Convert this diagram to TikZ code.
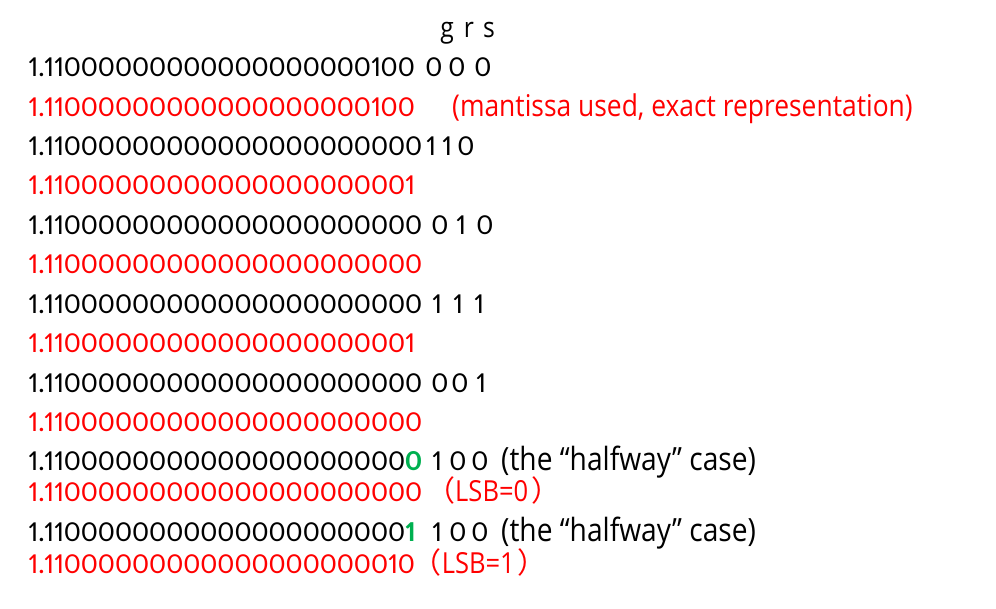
\documentclass[tikz,border=0pt]{standalone}
\usepackage{fontspec}
\setmainfont{Carlito}[Numbers=Proportional]
\newfontfamily\comic{Open Sans}[FakeStretch=0.88]
\newfontfamily\cjkf{Noto Sans CJK SC}
\definecolor{myred}{RGB}{255,0,0}
\definecolor{mygreen}{RGB}{0,176,80}
\def\zten{0000000000}
\begin{document}
\begin{tikzpicture}[x=1pt,y=-1pt,
  row/.style={anchor=base west,inner sep=0pt,font=\fontsize{29}{35}\selectfont},
  redrow/.style={row,text=myred},
  blackrow/.style={row,text=black},
  bit/.style={row,anchor=base},
  note/.style={row,font=\fontsize{30}{35}\selectfont\comic},
  halfnote/.style={row,font=\fontsize{32}{36}\selectfont\comic},
  grslabel/.style={bit,font=\fontsize{28}{33}\selectfont\comic}]
\useasboundingbox (0,0) rectangle (996,608);
% header
\node[grslabel] (hg) at (447,37) {g};
\node[grslabel] (hr) at (469,37) {r};
\node[grslabel] (hs) at (489,37) {s};
% row 1
\node[blackrow] (l1) at (28,76) {1.11\zten 00000000100};
\node[bit] (l1g) at (434,76) {0};
\node[bit] (l1r) at (457,76) {0};
\node[bit] (l1s) at (483,76) {0};
% row 2
\node[redrow] (l2) at (28,116) {1.11\zten 00000000100};
\node[note,text=myred] (l2n) at (452,116) {(mantissa used, exact representation)};
% row 3
\node[blackrow] (l3) at (28,155) {1.11\zten\zten 0};
\node[bit] (l3g) at (431,155) {1};
\node[bit] (l3r) at (447,155) {1};
\node[bit] (l3s) at (466,155) {0};
% row 4
\node[redrow] (l4) at (28,194) {1.11\zten\zten 1};
% row 5
\node[blackrow] (l5) at (28,234) {1.11\zten\zten 0};
\node[bit] (l5g) at (440,234) {0};
\node[bit] (l5r) at (461,234) {1};
\node[bit] (l5s) at (485,234) {0};
% row 6
\node[redrow] (l6) at (28,273) {1.11\zten\zten 0};
% row 7
\node[blackrow] (l7) at (28,313) {1.11\zten\zten 0};
\node[bit] (l7g) at (437,313) {1};
\node[bit] (l7r) at (458,313) {1};
\node[bit] (l7s) at (479,313) {1};
% row 8
\node[redrow] (l8) at (28,352) {1.11\zten\zten 1};
% row 9
\node[blackrow] (l9) at (28,392) {1.11\zten\zten 0};
\node[bit] (l9g) at (440,392) {0};
\node[bit] (l9r) at (460,392) {0};
\node[bit] (l9s) at (481,392) {1};
% row 10
\node[redrow] (l10) at (28,431) {1.11\zten\zten 0};
% row 11
\node[blackrow] (l11) at (28,470) {1.11\zten\zten{\bfseries\color{mygreen}0}};
\node[bit] (l11g) at (437,470) {1};
\node[bit] (l11r) at (458,470) {0};
\node[bit] (l11s) at (480,470) {0};
\node[halfnote] (l11n) at (501,470) {(the “halfway” case)};
% row 12
\node[redrow] (l12) at (28,501) {1.11\zten\zten 0\hspace{4pt}{\cjkf （}{\comic LSB=0}\hspace{3pt}{\cjkf ）}};
% row 13
\node[blackrow] (l13) at (28,541) {1.11\zten\zten{\bfseries\color{mygreen}1}};
\node[bit] (l13g) at (437,541) {1};
\node[bit] (l13r) at (458,541) {0};
\node[bit] (l13s) at (480,541) {0};
\node[halfnote] (l13n) at (501,541) {(the “halfway” case)};
% row 14
\node[redrow] (l14) at (28,573) {1.11\zten 00000000010\hspace{-2pt}{\cjkf （}{\comic LSB=1}\hspace{3pt}{\cjkf ）}};
\end{tikzpicture}
\end{document}
